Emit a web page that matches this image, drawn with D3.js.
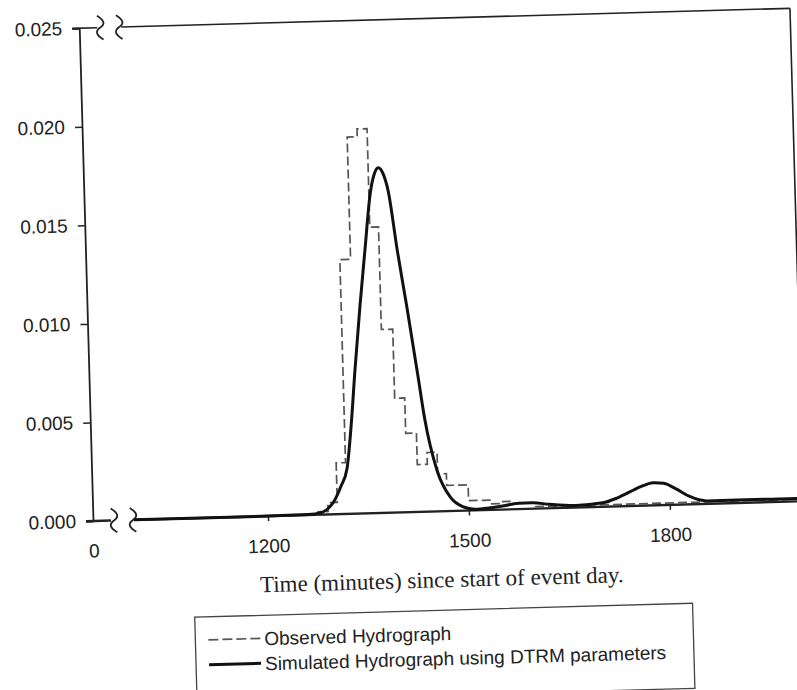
<!DOCTYPE html>
<html>
<head>
<meta charset="utf-8">
<script src="https://cdn.jsdelivr.net/npm/d3@7"></script>
<style>
  body { margin: 0; background: #fff; }
  svg { display: block; }
  .tick text { font-family: "Liberation Sans", Arial, sans-serif; font-size: 19px; fill: #222; }
  .tick line { stroke: #222; stroke-width: 1.5; }
</style>
</head>
<body>
<div id="chart"></div>
<script>
// Hydrograph values (time in minutes, flow)
const simTime = [1000, 1200, 1260, 1280, 1290, 1300, 1310, 1320, 1328, 1336, 1346, 1356, 1366, 1373, 1379, 1386, 1393, 1404, 1416, 1430, 1438, 1454, 1473, 1491, 1510, 1530, 1555, 1575, 1595, 1620, 1660, 1700, 1720, 1740, 1760, 1776, 1792, 1810, 1830, 1856, 1900, 2000];
const simFlow = [0, 0, 0.00002, 0.0001, 0.0003, 0.0007, 0.0014, 0.0023, 0.0045, 0.0073, 0.0105, 0.0134, 0.0162, 0.0172, 0.0175, 0.0172, 0.0163, 0.0133, 0.0104, 0.0068, 0.0047, 0.0021, 0.0007, 0.0002, 0.00005, 0.0001, 0.0002, 0.0003, 0.0003, 0.0002, 0.0001, 0.0002, 0.0004, 0.0007, 0.001, 0.00115, 0.0011, 0.0008, 0.0004, 0.00015, 0.00015, 0.00015];

// observed hydrograph is a step series: value holds from this time to the next
const obsTime = [1000, 1275, 1290, 1304, 1318, 1334, 1349, 1364, 1377, 1394, 1409, 1425, 1440, 1455, 1468, 1500, 1532, 1547, 1565, 1600, 2000];
const obsFlow = [0, 0.00015, 0.0006, 0.0026, 0.0129, 0.0191, 0.0195, 0.0145, 0.0093, 0.0058, 0.0040, 0.0024, 0.0030, 0.0019, 0.0013, 0.0005, 0.0003, 0.0004, 0.0003, 0.0001, 0.0001];

const yTicks = [0, 0.005, 0.010, 0.015, 0.020, 0.025];
const xTicks = [1200, 1500, 1800];
const xStubTicks = [0];
const xLabel = "Time (minutes) since start of event day.";
const legendLabels = ["Observed Hydrograph", "Simulated Hydrograph using DTRM parameters"];

function drawChart() {
    const width = 797, height = 690;
    const left = 93, right = 804, top = 28, bottom = 521;
    const breakL = 113, breakR = 134;

    const svg = d3.select("#chart")
        .append("svg")
        .attr("width", width)
        .attr("height", height);

    svg.append("rect").attr("width", width).attr("height", height).attr("fill", "#fff");

    // the scan is slightly tilted, so the whole figure is rotated a little
    const g = svg.append("g")
        .attr("transform", `rotate(-1.6, ${left}, ${bottom})`);

    const y = d3.scaleLinear().domain([0, 0.025]).range([bottom, top]);
    const x = d3.scaleLinear().domain([1000, 2000]).range([breakR, right]);
    const xStub = d3.scaleLinear().domain([0, 1]).range([left, breakL]);

    // Y axis
    g.append("g")
        .attr("transform", `translate(${left},0)`)
        .call(d3.axisLeft(y).tickValues(yTicks).tickFormat(d3.format(".3f")).tickSize(7).tickSizeOuter(7).tickPadding(10))
        .call(a => a.select(".domain").attr("stroke", "#222").attr("stroke-width", 1.8));

    // X axis, main part (domain drawn by hand because of the break)
    g.append("g")
        .attr("transform", `translate(0,${bottom})`)
        .call(d3.axisBottom(x).tickValues(xTicks).tickFormat(d3.format("d")).tickSize(5).tickPadding(18))
        .call(a => a.select(".domain").remove());

    g.append("g")
        .attr("transform", `translate(0,${bottom})`)
        .call(d3.axisBottom(xStub).tickValues(xStubTicks).tickFormat(d3.format("d")).tickSize(0).tickPadding(23))
        .call(a => a.select(".domain").remove());

    // axis lines and frame with the break
    const frame = [
        [left - 7, bottom, breakL - 2, bottom],
        [breakR + 1, bottom, right, bottom],
        [left - 7, top, breakL - 2, top],
        [breakR + 1, top, right, top],
        [right, top, right, bottom]
    ];
    g.selectAll(".frame")
        .data(frame)
        .enter()
        .append("line")
        .attr("x1", d => d[0]).attr("y1", d => d[1])
        .attr("x2", d => d[2]).attr("y2", d => d[3])
        .attr("stroke", "#222")
        .attr("stroke-width", (d, i) => i < 2 ? 2.4 : 1.6);

    // break marks
    const breaks = [[breakL + 1, top], [breakR - 1, top], [breakL + 1, bottom], [breakR - 1, bottom]];
    g.selectAll(".brk")
        .data(breaks)
        .enter()
        .append("path")
        .attr("d", d => {
            const p = d3.path();
            p.moveTo(d[0] - 3, d[1] - 12);
            p.quadraticCurveTo(d[0] + 8, d[1] - 5, d[0], d[1]);
            p.quadraticCurveTo(d[0] - 8, d[1] + 5, d[0] + 3, d[1] + 12);
            return p.toString();
        })
        .attr("fill", "none")
        .attr("stroke", "#222")
        .attr("stroke-width", 1.8);

    // observed hydrograph (dashed steps)
    const obsLine = d3.line()
        .x((d, i) => x(obsTime[i]))
        .y(d => y(d))
        .curve(d3.curveStepAfter);

    g.append("path")
        .datum(obsFlow)
        .attr("fill", "none")
        .attr("stroke", "#555")
        .attr("stroke-width", 1.7)
        .attr("stroke-dasharray", "9,4")
        .attr("d", obsLine);

    // simulated hydrograph
    const simLine = d3.line()
        .x((d, i) => x(simTime[i]))
        .y(d => y(d))
        .curve(d3.curveMonotoneX);

    g.append("path")
        .datum(simFlow)
        .attr("fill", "none")
        .attr("stroke", "#111")
        .attr("stroke-width", 3)
        .attr("d", simLine);

    // x axis title
    g.append("text")
        .attr("x", 440)
        .attr("y", 597)
        .attr("text-anchor", "middle")
        .style("font-family", "'Liberation Serif', 'Times New Roman', serif")
        .style("font-size", "23px")
        .style("fill", "#222")
        .text(xLabel);

    // legend
    const lg = g.append("g").attr("transform", "translate(192,620)");
    lg.append("rect")
        .attr("width", 498)
        .attr("height", 85)
        .attr("fill", "#fff")
        .attr("stroke", "#444")
        .attr("stroke-width", 1.3);

    const items = lg.selectAll(".item")
        .data(legendLabels)
        .enter()
        .append("g")
        .attr("transform", (d, i) => `translate(0,${23 + i * 25})`);

    items.append("line")
        .attr("x1", 13).attr("x2", 65)
        .attr("y1", 0).attr("y2", 0)
        .attr("stroke", (d, i) => i === 0 ? "#555" : "#111")
        .attr("stroke-width", (d, i) => i === 0 ? 1.7 : 3)
        .attr("stroke-dasharray", (d, i) => i === 0 ? "10,4" : null);

    items.append("text")
        .attr("x", 69)
        .attr("y", 7)
        .style("font-family", "'Liberation Sans', Arial, sans-serif")
        .style("font-size", "19px")
        .style("fill", "#222")
        .text(d => d);
}

drawChart();
</script>
</body>
</html>
